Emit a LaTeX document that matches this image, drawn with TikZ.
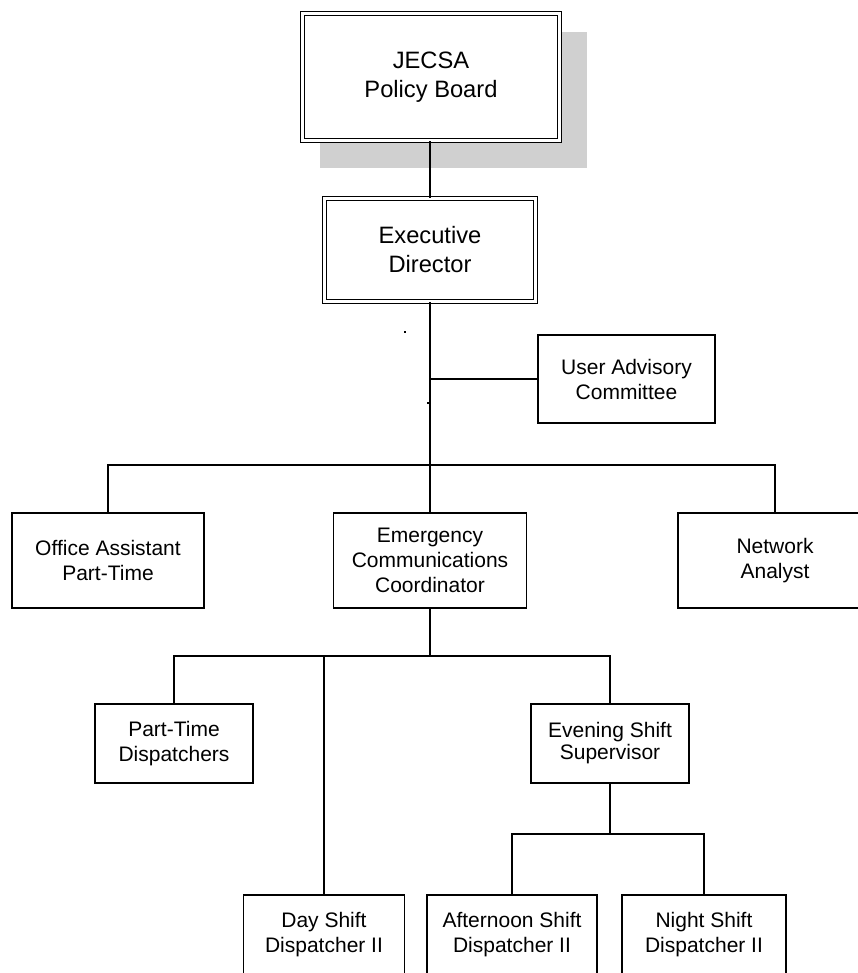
\documentclass[tikz,border=0pt]{standalone}
\usepackage{fontspec}
\setmainfont{Liberation Sans}
\definecolor{shadowgray}{RGB}{208,208,208}
\begin{document}
\begin{tikzpicture}[x=1pt,y=-1pt,
  box/.style={draw, line width=1.7pt, fill=white, align=center, inner sep=0pt,
    font=\fontsize{21}{25}\selectfont},
  dbox/.style={draw, line width=1.4pt, double, double distance=2.2pt, fill=white,
    align=center, inner sep=0pt, font=\fontsize{23.7}{29}\selectfont},
  conn/.style={line width=1.7pt},
]
\useasboundingbox (0,0) rectangle (858,973);
\clip (0,0) rectangle (858,973);
% shadow
\fill[shadowgray] (320,32) rectangle (587,168);
% nodes
\node[dbox, minimum width=257, minimum height=127] (jecsa) at (431,77) {JECSA\\Policy Board};
\node[dbox, minimum width=211, minimum height=103] (exec) at (430,250) {Executive\\Director};
\node[box, minimum width=177, minimum height=88] (uac) at (626.5,379) {User Advisory\\Committee};
\node[box, minimum width=192, minimum height=95] (office) at (108,560.5) {Office Assistant\\Part-Time};
\node[box, minimum width=193, minimum height=95] (ecc) at (430,560.5) {Emergency\\Communications\\Coordinator};
\node[box, minimum width=194, minimum height=95] (network) at (775,560.5) {Network\\Analyst};
\node[box, minimum width=158, minimum height=79] (parttime) at (174,743.5) {Part-Time\\Dispatchers};
\node[box, minimum width=158, minimum height=79, font=\fontsize{21}{22}\selectfont] (evening) at (610,743.5) {Evening Shift\\Supervisor};
\node[box, minimum width=161, minimum height=80] (day) at (324,935) {Day Shift\\Dispatcher II};
\node[box, minimum width=170, minimum height=80] (afternoon) at (512,935) {Afternoon Shift\\Dispatcher II};
\node[box, minimum width=164, minimum height=80] (night) at (704,935) {Night Shift\\Dispatcher II};
% junction coordinates
\coordinate (barA) at (430,465);
\coordinate (barB) at (430,656);
\coordinate (barC) at (610,834);
% connectors
\draw[conn] (exec.north) -- (exec.north |- jecsa.south);
\draw[conn] (exec.south) -- (barA);
\draw[conn] (barA) -- (ecc.north);
\draw[conn] (exec.south |- uac.west) -- (uac.west);
\draw[conn] (office.north) |- (barA) -| (network.north);
\draw[conn] (ecc.south) -- (barB);
\draw[conn] (parttime.north) |- (barB) -| (evening.north);
\draw[conn] (day.north) -- (day.north |- barB);
\draw[conn] (evening.south) -- (barC);
\draw[conn] (afternoon.north) |- (barC) -| (night.north);
% stray marks
\fill (404,331) rectangle (406,333);
\fill (427,402) rectangle (429,404);
\end{tikzpicture}
\end{document}
